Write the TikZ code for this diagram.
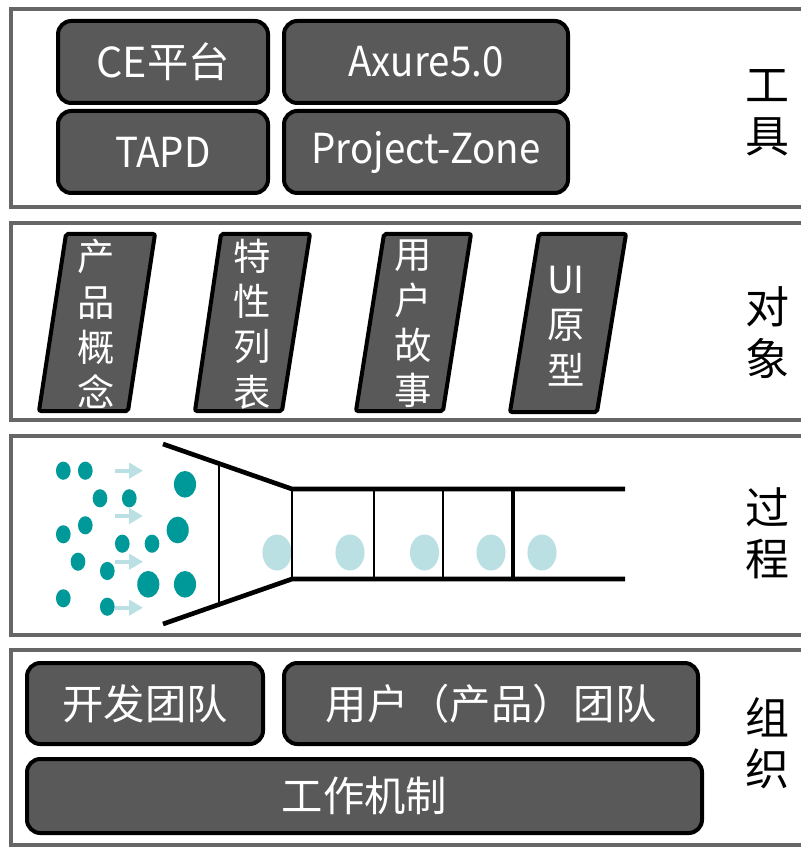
\documentclass[tikz,border=0pt]{standalone}
\usepackage{fontspec}
\setmainfont{Noto Sans CJK SC}
\usetikzlibrary{arrows.meta}
\definecolor{panelgray}{RGB}{102,102,102}
\definecolor{boxfill}{RGB}{89,89,89}
\definecolor{dotteal}{RGB}{0,153,153}
\definecolor{paleteal}{RGB}{187,224,228}
% narrower setting for the Latin tool names
\newcommand{\narrowtext}[1]{\scalebox{0.93}[1]{#1}}
\tikzset{
  panel/.style={draw=panelgray, line width=3pt},
  darkbox/.style={draw=black, line width=3pt, fill=boxfill, rounded corners=10pt,
    text=white, inner sep=0pt, font=\fontsize{31}{36}\selectfont},
  slantbox/.style={draw=black, line width=3pt, fill=boxfill, rounded corners=1.5pt},
  slanttext/.style={text=white, align=center, inner sep=0pt, font=\fontsize{28}{34}\selectfont},
  sidelabel/.style={align=center, inner sep=0pt, font=\fontsize{33}{38.5}\selectfont},
  funnelline/.style={line width=3.5pt},
  rung/.style={line width=1.5pt},
  flowarrow/.style={draw=paleteal, line width=3pt, -{Triangle[length=10.5pt,width=11.5pt]}},
}
\begin{document}
\begin{tikzpicture}[x=0.75pt,y=-0.75pt]
\useasboundingbox (0,0) rectangle (800,848);

% ---- layer frames
\draw[panel] (11,9.5) rectangle (815,207);
\draw[panel] (11,223) rectangle (815,420);
\draw[panel] (11,436) rectangle (815,635);
\draw[panel] (11,650) rectangle (815,845);

% ---- tools
\node[darkbox, minimum width=157.5pt, minimum height=61.5pt] (ce)   at (163,62)  {CE平台};
\node[darkbox, minimum width=213pt,   minimum height=61.5pt] (axure) at (426,62)  {\narrowtext{Axure5.0}};
\node[darkbox, minimum width=157.5pt, minimum height=61.5pt] (tapd) at (163,152) {\narrowtext{TAPD}};
\node[darkbox, minimum width=213pt,   minimum height=61.5pt] (pz)   at (426,152) {\narrowtext{Project-Zone}};
\node[sidelabel] (ltools) at (767,112.5) {工\\具};

% ---- objects
\draw[slantbox] (66,234)  -- (155,234) -- (128,411) -- (39,411)  -- cycle;
\draw[slantbox] (221,234) -- (310,234) -- (282,411) -- (195,411) -- cycle;
\draw[slantbox] (384,234) -- (471,234) -- (443,411) -- (356,411) -- cycle;
\draw[slantbox] (539,234) -- (626,234) -- (597,412) -- (510,412) -- cycle;
\node[slanttext] (o1) at (96.5,324)  {产\\品\\概\\念};
\node[slanttext] (o2) at (252,324)   {特\\性\\列\\表};
\node[slanttext] (o3) at (413.5,324) {用\\户\\故\\事};
\node[slanttext] (o4) at (566,326)   {UI\\原\\型};
\node[sidelabel] (lobj) at (767,332.5) {对\\象};

% ---- process: items in the pipe
\foreach \cx in {277,350,424.5,491,542}
  \fill[paleteal] (\cx,552.5) ellipse [x radius=10.9pt, y radius=13.5pt];

% funnel and pipe
\draw[funnelline] (163,444) -- (292,489) -- (625,489);
\draw[funnelline] (163,624) -- (292,579) -- (625,579);
\draw[rung] (219,463.5) -- (219,604.5);
\draw[rung] (292,489) -- (292,579);
\draw[rung] (374,489) -- (374,579);
\draw[rung] (443,489) -- (443,579);
\draw[line width=2.6pt] (513,489) -- (513,579);

% incoming ideas
\foreach \cx/\cy in {63.3/470.7, 85.3/470.7, 100/498.3, 129.3/498.3, 63.3/534.3,
  85.3/525.3, 122.3/543.7, 152/543.7, 78/561.7, 107.3/571, 63.3/598.3, 107.3/606.7}
  \fill[dotteal] (\cx,\cy) ellipse [x radius=5.5pt, y radius=6.8pt];
\foreach \cx/\cy in {185/484.3, 177.7/530, 148.3/584.3, 185/584.3}
  \fill[dotteal] (\cx,\cy) ellipse [x radius=8.3pt, y radius=10pt];

\foreach \ay [count=\i] in {470.7,516,561.7,607.7} {
  \coordinate (as\i) at (115,\ay);
  \coordinate (ae\i) at (143,\ay);
  \draw[flowarrow] (as\i) -- (ae\i);
}
\node[sidelabel] (lproc) at (767,533.5) {过\\程};

% ---- organisation
\node[darkbox, minimum width=177pt,    minimum height=60.75pt] (dev)  at (145,703.5)   {开发团队};
\node[darkbox, minimum width=310.5pt,  minimum height=60.75pt] (user) at (491,703.5)   {用户（产品）团队};
\node[darkbox, minimum width=506.25pt, minimum height=55.5pt]  (mech) at (364.5,796)   {工作机制};
\node[sidelabel] (lorg) at (767,743) {组\\织};
\end{tikzpicture}
\end{document}
